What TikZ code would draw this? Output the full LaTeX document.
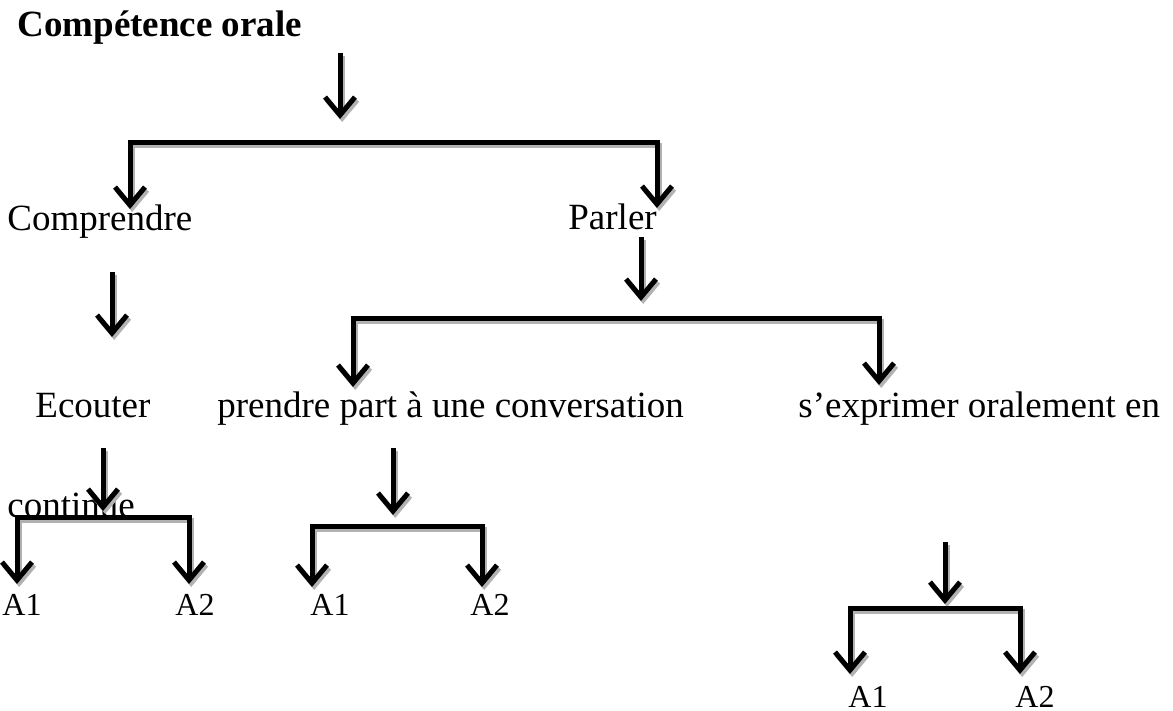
\documentclass[tikz,border=0pt]{standalone}
\usepackage{fontspec}
\setmainfont{Liberation Serif}
\usetikzlibrary{arrows.meta}
\tikzset{
  barb/.tip={Straight Barb[length=9pt,width=15pt,line width=2.5pt]},
  lbl/.style={inner sep=0pt, anchor=base west, font=\fontsize{18.5}{22}\selectfont},
  albl/.style={inner sep=0pt, anchor=base west, font=\fontsize{16}{19}\selectfont},
  conn/.style={line width=2.5pt, black, line cap=butt, line join=miter, -barb,
    preaction={draw=gray!60, line width=2.5pt, transform canvas={shift={(1.1pt,-1.5pt)}}}},
  conn2/.style={line width=2.5pt, black, line cap=butt, line join=miter, barb-barb,
    preaction={draw=gray!60, line width=2.5pt, transform canvas={shift={(1.1pt,-1.5pt)}}}}
}
\begin{document}
\begin{tikzpicture}[x=0.5pt,y=-0.5pt]
\useasboundingbox (0,0) rectangle (1173,711);
% texts
\node[lbl, font=\fontsize{18.5}{22}\selectfont\bfseries] (title) at (17,37) {Compétence orale};
\node[lbl] (compr) at (7,231) {Comprendre};
\node[lbl] (parler) at (568,230) {Parler};
\node[lbl] (ecouter) at (35,417) {Ecouter};
\node[lbl] (prendre) at (217,417) {prendre part à une conversation};
\node[lbl] (exprimer) at (798,417) {s’exprimer oralement en};
\node[lbl] (continue) at (7,517) {continue};
\node[albl] (a1a) at (2,615) {A1};
\node[albl] (a2a) at (175,615) {A2};
\node[albl] (a1b) at (310,615) {A1};
\node[albl] (a2b) at (470,615) {A2};
\node[albl] (a1c) at (848,707) {A1};
\node[albl] (a2c) at (1015,707) {A2};
% coordinates
\coordinate (s1) at (340,53);  \coordinate (e1) at (340,119);
\coordinate (b1l) at (130,209); \coordinate (b1a) at (130,143); \coordinate (b1b) at (657,143); \coordinate (b1r) at (657,208);
\coordinate (s2) at (641,237); \coordinate (e2) at (641,301);
\coordinate (b2l) at (353,387); \coordinate (b2a) at (353,319); \coordinate (b2b) at (879,319); \coordinate (b2r) at (879,385);
\coordinate (s3) at (112,272); \coordinate (e3) at (112,337);
\coordinate (s4) at (103,448); \coordinate (e4) at (103,511);
\coordinate (b3l) at (17,584); \coordinate (b3a) at (17,517); \coordinate (b3b) at (189,517); \coordinate (b3r) at (189,584);
\coordinate (s5) at (393,448); \coordinate (e5) at (393,515);
\coordinate (b4l) at (312,587); \coordinate (b4a) at (312,526); \coordinate (b4b) at (482,526); \coordinate (b4r) at (482,587);
\coordinate (s6) at (945,542); \coordinate (e6) at (945,604);
\coordinate (b5l) at (850,674); \coordinate (b5a) at (850,608); \coordinate (b5b) at (1020,608); \coordinate (b5r) at (1020,674);
% connectors
\draw[conn] (s1) -- (e1);
\draw[conn2] (b1l) -- (b1a) -- (b1b) -- (b1r);
\draw[conn] (s2) -- (e2);
\draw[conn2] (b2l) -- (b2a) -- (b2b) -- (b2r);
\draw[conn] (s3) -- (e3);
\draw[conn] (s4) -- (e4);
\draw[conn2] (b3l) -- (b3a) -- (b3b) -- (b3r);
\draw[conn] (s5) -- (e5);
\draw[conn2] (b4l) -- (b4a) -- (b4b) -- (b4r);
\draw[conn] (s6) -- (e6);
\draw[conn2] (b5l) -- (b5a) -- (b5b) -- (b5r);
\end{tikzpicture}
\end{document}
